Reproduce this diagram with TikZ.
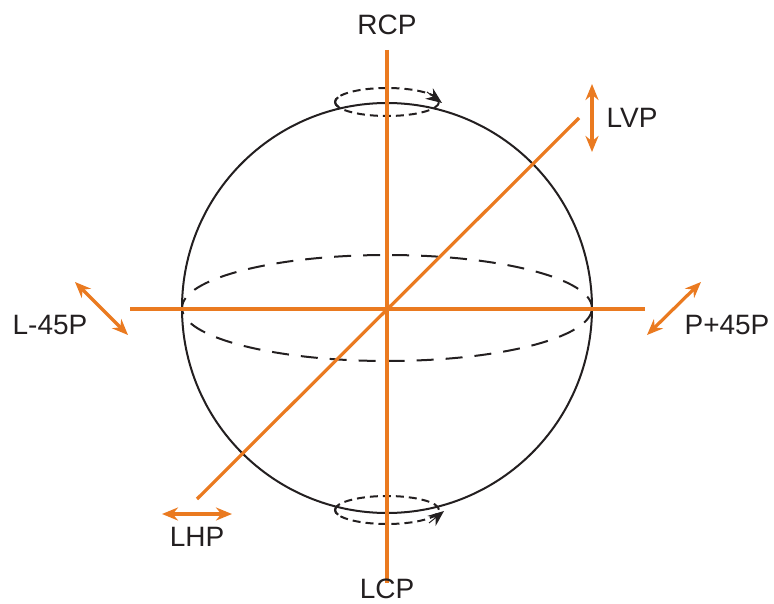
\documentclass[tikz,border=0pt]{standalone}
\usepackage{fontspec}
\setmainfont{Liberation Sans}
\usetikzlibrary{arrows.meta}
\definecolor{orng}{RGB}{234,122,32}
\definecolor{ink}{RGB}{35,31,32}
\begin{document}
\begin{tikzpicture}[x=1pt,y=-1pt,
  axis/.style={draw=orng,line width=3.2pt},
  pol/.style={draw=orng,line width=3.2pt,{Stealth[length=16pt,width=13pt]}-{Stealth[length=16pt,width=13pt]}},
  sph/.style={draw=ink,line width=2pt},
  eq/.style={draw=ink,line width=2pt,dash pattern=on 17pt off 12pt},
  sm/.style={draw=ink,line width=2pt,dash pattern=on 8pt off 5pt},
  tip/.style={draw=ink,line width=1pt,-{Stealth[length=16pt,width=13pt]}},
  lbl/.style={text=ink,font=\fontsize{28}{30}\selectfont,inner sep=0pt}]
\useasboundingbox (0,0) rectangle (774,604);
% sphere
\coordinate (o) at (387,308);
\draw[sph] (o) circle[radius=205];
\draw[eq] (o) ellipse[x radius=205,y radius=53];
% small circulation ellipses
\draw[sm] (387,102) ++(180:52 and 14) arc[start angle=180,end angle=-180,x radius=52,y radius=14];
\draw[sph] (387,102) ++(160:52 and 14) arc[start angle=160,end angle=200,x radius=52,y radius=14];
\coordinate (ta) at (427,92);
\coordinate (tb) at (442,103);
\draw[tip] (ta) -- (tb);
\draw[sm] (387,510) ++(180:52 and 14) arc[start angle=180,end angle=540,x radius=52,y radius=14];
\draw[sph] (387,510) ++(160:52 and 14) arc[start angle=160,end angle=200,x radius=52,y radius=14];
\coordinate (ba) at (429,523);
\coordinate (bb) at (444,511);
\draw[tip] (ba) -- (bb);
% axes
\coordinate (vt) at (387,50);
\coordinate (vb) at (387,583);
\coordinate (hl) at (130,309);
\coordinate (hr) at (645,309);
\coordinate (dl) at (197,499);
\coordinate (dr) at (579,118);
\draw[axis] (vt) -- (vb);
\draw[axis] (hl) -- (hr);
\draw[axis] (dl) -- (dr);
% polarization arrows
\coordinate (lv1) at (592,84);
\coordinate (lv2) at (592,152);
\coordinate (lh1) at (162,514);
\coordinate (lh2) at (232,514);
\coordinate (lm1) at (75,282);
\coordinate (lm2) at (128,335);
\coordinate (pp1) at (647,335);
\coordinate (pp2) at (701,282);
\draw[pol] (lv1) -- (lv2);
\draw[pol] (lh1) -- (lh2);
\draw[pol] (lm1) -- (lm2);
\draw[pol] (pp1) -- (pp2);
% labels
\node[lbl] (rcp) at (387,25) {RCP};
\node[lbl] (lcp) at (387,589) {LCP};
\node[lbl] (lvp) at (632,118) {LVP};
\node[lbl] (lhp) at (197,537) {LHP};
\node[lbl] (l45) at (50,325) {L-45P};
\node[lbl] (p45) at (727,325) {P+45P};
\end{tikzpicture}
\end{document}
